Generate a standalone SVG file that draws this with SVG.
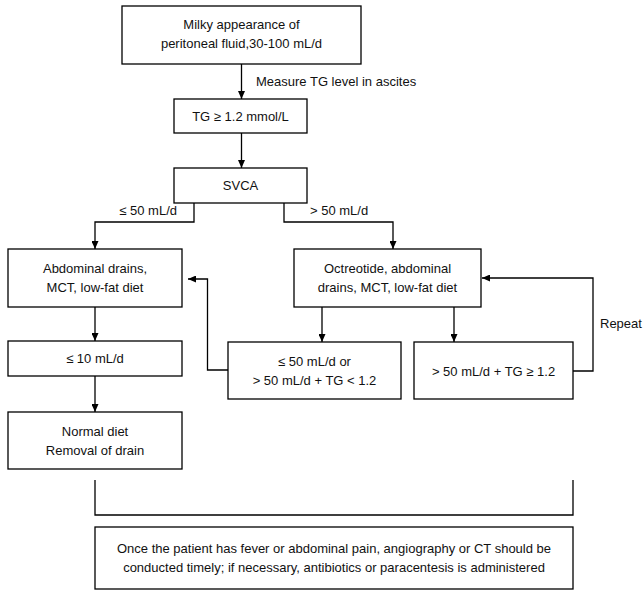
<svg xmlns="http://www.w3.org/2000/svg" width="644" height="597" viewBox="0 0 644 597">
<style>
  .box { fill: #ffffff; stroke: #000000; stroke-width: 1.3; }
  .t { font-family: "Liberation Sans", Arial, sans-serif; font-size: 13px; fill: #111111; text-anchor: middle; }
  .l { font-family: "Liberation Sans", Arial, sans-serif; font-size: 13px; fill: #111111; }
  .c { fill: none; stroke: #000000; stroke-width: 1.3; }
  .a { marker-end: url(#arr); }
</style>
<defs>
  <marker id="arr" markerUnits="userSpaceOnUse" markerWidth="9" markerHeight="7" refX="8" refY="3.5" orient="auto">
    <path d="M0,0 L8,3.5 L0,7 z" fill="#000000"/>
  </marker>
</defs>
<rect width="644" height="597" fill="#ffffff"/>
<g id="connectors">
  <path class="c a" d="M241.5,64 V99"/>
  <path class="c a" d="M241.5,133 V168"/>
  <path class="c a" d="M194,203 V222 H95 V249"/>
  <path class="c a" d="M284,203 V222 H393 V249"/>
  <path class="c a" d="M95,307 V341"/>
  <path class="c a" d="M95,376 V412"/>
  <path class="c a" d="M322,307 V342"/>
  <path class="c a" d="M454,307 V342"/>
  <path class="c a" d="M228,370 H207.5 V279 H188"/>
  <path class="c a" d="M573,371 H593 V278 H482"/>
  <path class="c" d="M95,480 V515 H573 V480"/>
  <text class="l" x="256" y="86">Measure TG level in ascites</text>
  <text class="l" x="177" y="215" text-anchor="end">≤ 50 mL/d</text>
  <text class="l" x="310" y="215">&gt; 50 mL/d</text>
  <text class="l" x="600" y="328">Repeat</text>
</g>
<g id="n1">
  <rect class="box" x="122" y="6" width="239" height="58"/>
  <text class="t" x="241.5" y="29">Milky appearance of</text>
  <text class="t" x="241.5" y="48">peritoneal fluid,30-100 mL/d</text>
</g>
<g id="n2">
  <rect class="box" x="174" y="99" width="133" height="34"/>
  <text class="t" x="240.5" y="121">TG ≥ 1.2 mmol/L</text>
</g>
<g id="n3">
  <rect class="box" x="174" y="168" width="133" height="35"/>
  <text class="t" x="240.5" y="190">SVCA</text>
</g>
<g id="n4">
  <rect class="box" x="8" y="249" width="174" height="58"/>
  <text class="t" x="95" y="273">Abdominal drains,</text>
  <text class="t" x="95" y="292">MCT, low-fat diet</text>
</g>
<g id="n5">
  <rect class="box" x="294" y="249" width="187" height="58"/>
  <text class="t" x="387.5" y="273">Octreotide, abdominal</text>
  <text class="t" x="387.5" y="292">drains, MCT, low-fat diet</text>
</g>
<g id="n6">
  <rect class="box" x="8" y="341" width="174" height="35"/>
  <text class="t" x="95" y="363">≤ 10 mL/d</text>
</g>
<g id="n7">
  <rect class="box" x="8" y="412" width="174" height="57"/>
  <text class="t" x="95" y="436">Normal diet</text>
  <text class="t" x="95" y="455">Removal of drain</text>
</g>
<g id="n8">
  <rect class="box" x="228" y="342" width="173" height="57"/>
  <text class="t" x="314.5" y="366">≤ 50 mL/d or</text>
  <text class="t" x="314.5" y="385">&gt; 50 mL/d + TG &lt; 1.2</text>
</g>
<g id="n9">
  <rect class="box" x="414" y="342" width="159" height="57"/>
  <text class="t" x="493.5" y="376">&gt; 50 mL/d + TG ≥ 1.2</text>
</g>
<g id="n10">
  <rect class="box" x="95" y="527" width="478" height="62"/>
  <text class="t" x="334" y="553">Once the patient has fever or abdominal pain, angiography or CT should be</text>
  <text class="t" x="334" y="572">conducted timely; if necessary, antibiotics or paracentesis is administered</text>
</g>
</svg>
